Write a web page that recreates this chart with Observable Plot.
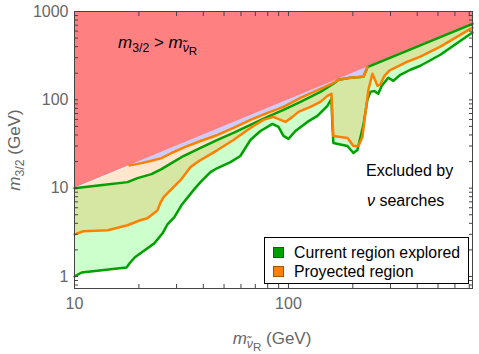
<!DOCTYPE html>
<html><head><meta charset="utf-8">
<script src="https://cdn.jsdelivr.net/npm/d3@7"></script>
<script src="https://cdn.jsdelivr.net/npm/@observablehq/plot@0.6"></script>
<style>
body{margin:0;background:#fff;}
#wrap{position:relative;width:479px;height:354px;font-family:"Liberation Sans",Arial,sans-serif;overflow:hidden;}
#chart{position:absolute;left:0;top:0;}
.t{position:absolute;white-space:nowrap;line-height:1;}
.s{position:relative;top:0.3em;font-size:0.72em;}
.s .s{top:0.25em;font-size:0.95em;}
.lg{position:absolute;left:264px;top:237px;width:203px;height:45px;border:1px solid #000;background:#fff;font-size:15.8px;color:#000;}
.row{position:absolute;left:8px;white-space:nowrap;line-height:1;}
.sw{display:inline-block;width:9px;height:9px;margin-right:10px;border:1px solid rgba(0,0,0,0.35);vertical-align:0px;}
</style></head><body>
<div id="wrap">
<div id="chart"></div>
<div class="t" style="left:118px;top:34px;font-size:17px;color:#000;"><i>m</i><span class="s">3/2</span> &gt; <i>m</i><span class="s"><i>ν̃</i><span class="s">R</span></span></div>
<div class="t" style="left:366px;top:163px;font-size:16px;color:#000;">Excluded by</div>
<div class="t" style="left:367px;top:193px;font-size:16px;color:#000;"><i>ν</i> searches</div>
<div class="t" style="left:14px;top:150px;font-size:17px;color:#666;transform:translate(-50%,-50%) rotate(-90deg);"><i>m</i><span class="s">3/2</span> (GeV)</div>
<div class="t" style="left:272px;top:338px;font-size:17px;color:#666;transform:translate(-50%,-50%);"><i>m</i><span class="s"><i>ν̃</i><span class="s">R</span></span> (GeV)</div>
<div class="lg">
  <div class="row" style="top:7px;"><span class="sw" style="background:#00a000;"></span>Current region explored</div>
  <div class="row" style="top:26px;"><span class="sw" style="background:#ff8000;"></span>Proyected region</div>
</div>
</div>
<script>
// Tick values
const xMajor = [10, 100];
const xMinor = [20, 30, 40, 50, 60, 70, 80, 90, 200, 300, 400, 500, 600, 700];
const yMajor = [1, 10, 100, 1000];
const yMinor = [0.8, 0.9, 2, 3, 4, 5, 6, 7, 8, 9, 20, 30, 40, 50, 60, 70, 80, 90, 200, 300, 400, 500, 600, 700, 800, 900];

// Boundary m3/2 = m_sneutrino
const diagX = [10, 725];
const diagY = [10, 725];

// Current region explored: upper (green) boundary
const guX = [10, 13.2, 17.7, 19.7, 22.9, 25.5, 28.4, 32.3, 38.8, 46.6, 55.3, 66.4, 79.8, 94.8, 113.8, 141.1, 162.2, 171.3, 194.8, 224.1, 234, 725];
const guY = [10, 10.8, 11.7, 13.0, 14.4, 16.4, 19.2, 23.1, 28.5, 35.1, 42.2, 52.0, 64.1, 76.9, 94.9, 123, 152, 169, 178, 182, 234, 725];

// Current region explored: lower (green) boundary
const glX = [10, 10.8, 17.5, 18.1, 19.1, 21.2, 23.6, 25.8, 27.2, 29.3, 31.6, 36.0, 38.8, 43.2, 46.6, 53.6, 59.6, 66.4, 74.0, 84.2, 89.8, 94.8, 100, 107.8, 122.7, 136.6, 152.1, 158.8, 160.5, 162.2, 188.7, 201.2, 210.1, 224.1, 234, 241.6, 252, 263, 273, 293, 309.5, 333.4, 371.5, 413.7, 513, 725];
const glY = [1.0, 1.11, 1.26, 1.41, 1.64, 1.97, 2.37, 3.08, 3.9, 4.7, 6.4, 9.5, 11.7, 15.2, 16.9, 19.7, 23.1, 35.1, 44.4, 53.4, 49.3, 39.0, 36.1, 44.4, 56.2, 65.8, 85.5, 102.6, 52.0, 32.5, 30.0, 25.0, 27.0, 52.0, 100, 123, 126, 117, 144, 178, 164, 192, 219, 243, 324, 577];

// Projected region: upper (orange) boundary
const ouX = [10, 18.1, 20.6, 23.6, 25.5, 28.4, 32.7, 38.8, 46.6, 55.3, 66.4, 79.8, 94.8, 113.8, 141.1, 162.2, 171.3, 194.8, 224.1, 234, 725];
const ouY = [10, 18.1, 19.2, 20.8, 21.9, 25.0, 29.2, 34.2, 40.0, 48.1, 59.3, 71.1, 83.2, 105, 133, 156, 169, 178, 182, 234, 725];

// Projected region: lower (orange) boundary
const olX = [10, 11.0, 14.3, 17.7, 20.3, 21.9, 24.4, 25.2, 26.1, 28.1, 31.3, 34.8, 38.8, 46.6, 55.3, 66.4, 76.4, 85.1, 91.8, 96.8, 104.4, 111.4, 126.7, 141.1, 152.1, 158.8, 160.5, 162.2, 188.7, 201.2, 212.4, 221.8, 229, 236.5, 246.9, 260.6, 269.1, 281, 296, 322.9, 359.6, 413.7, 513, 725];
const olY = [3.0, 3.25, 3.33, 3.8, 4.33, 4.56, 5.6, 6.8, 7.9, 9.5, 12.3, 17.3, 20.8, 27.0, 35.1, 48.1, 59.3, 64.1, 59.3, 56.2, 64.1, 73.1, 83.2, 94.9, 111, 117, 62.4, 39.0, 37.0, 30.0, 30.0, 38.0, 71.1, 130, 197, 144, 150, 187, 214, 237, 270, 308, 400, 658];

const pts = (xs, ys) => xs.map((x, i) => ({x, y: ys[i]}));
const diag = pts(diagX, diagY);
const gu = pts(guX, guY), gl = pts(glX, glY), ou = pts(ouX, ouY), ol = pts(olX, olY);
const greenBand = [...gu, ...gl.slice().reverse()];
const orangeBand = [...ou, ...ol.slice().reverse()];
const ouLine = ou.slice(1, -1);

const GREEN = "#00a000", ORANGE = "#ff8000", FRAME = "#444";
const yTop = yMajor[yMajor.length - 1];

const chart = Plot.plot({
  width: 479, height: 354,
  marginLeft: 74, marginRight: 7, marginTop: 11, marginBottom: 66,
  x: {type: "log", domain: [10, 725]},
  y: {type: "log", domain: [0.731, 1000]},
  style: {fontFamily: '"Liberation Sans", Arial, sans-serif', fontSize: "16px", color: "#666", background: "white", overflow: "visible"},
  marks: [
    Plot.areaY(ou, {x: "x", y1: "y", y2: yTop, fill: "#ccccff"}),
    Plot.areaY(diag, {x: "x", y1: "y", y2: yTop, fill: "#ff8080"}),
    Plot.line(greenBand, {x: "x", y: "y", fill: "#00ff00", fillOpacity: 0.2, stroke: "none"}),
    Plot.line(orangeBand, {x: "x", y: "y", fill: ORANGE, fillOpacity: 0.2, stroke: "none"}),
    Plot.line(gl, {x: "x", y: "y", stroke: GREEN, strokeWidth: 2.5}),
    Plot.line(gu, {x: "x", y: "y", stroke: GREEN, strokeWidth: 2.5}),
    Plot.line(ol, {x: "x", y: "y", stroke: ORANGE, strokeWidth: 2.5}),
    Plot.line(ouLine, {x: "x", y: "y", stroke: ORANGE, strokeWidth: 2.5}),
    Plot.frame({stroke: FRAME}),
    // tick marks (inward), all sides
    Plot.axisX(xMajor.concat(xMinor), {anchor: "bottom", tickSize: -4, fill: "none", stroke: FRAME, label: null}),
    Plot.axisX(xMajor.concat(xMinor), {anchor: "top", tickSize: -4, fill: "none", stroke: FRAME, label: null}),
    Plot.axisY(yMajor.concat(yMinor), {anchor: "left", tickSize: -4, fill: "none", stroke: FRAME, label: null}),
    Plot.axisY(yMajor.concat(yMinor), {anchor: "right", tickSize: -4, fill: "none", stroke: FRAME, label: null}),
    // tick labels
    Plot.axisX(xMajor, {anchor: "bottom", tickSize: 0, tickPadding: 9, fill: "#666", label: null, tickFormat: d => String(d)}),
    Plot.axisY(yMajor, {anchor: "left", tickSize: 0, tickPadding: 6, fill: "#666", label: null, tickFormat: d => String(d)})
  ]
});
document.getElementById("chart").appendChild(chart);
</script>
</body></html>
